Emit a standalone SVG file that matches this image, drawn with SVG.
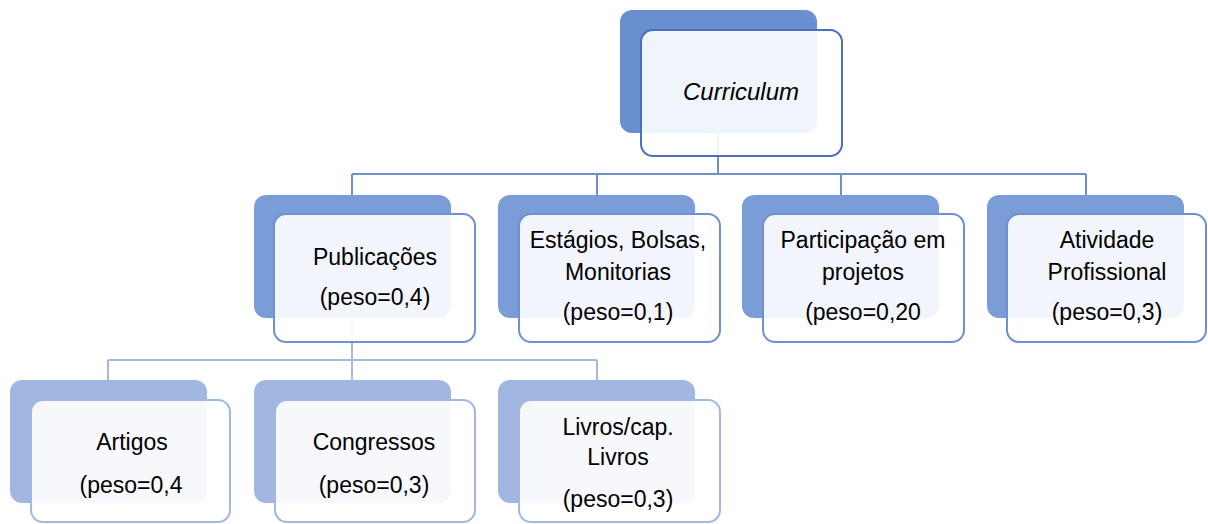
<svg xmlns="http://www.w3.org/2000/svg" width="1208" height="524" viewBox="0 0 1208 524">
<style>
.t{font-family:"Liberation Sans",Arial,sans-serif;font-size:23px;fill:#000;text-anchor:middle}
.it{font-style:italic;font-size:24px}
.b1{fill:#6a8fd0}
.f1{fill:#fff;fill-opacity:0.9;stroke:#4a6fbd;stroke-width:2}
.b2{fill:#7b9dd7}
.f2{fill:#fff;fill-opacity:0.9;stroke:#6f90d1;stroke-width:2}
.b3{fill:#a1b7e1}
.f3{fill:#fff;fill-opacity:0.9;stroke:#a3b7e0;stroke-width:2}
.c1{fill:none;stroke:#6f8fcf;stroke-width:2}
.c2{fill:none;stroke:#a5b9e2;stroke-width:2}
</style>
<rect width="1208" height="524" fill="#fff"/>
<g id="connectors">
<path class="c1" d="M718,133 V174 M352,174 H1086 M352,174 V195 M597,174 V195 M841,174 V195 M1086,174 V195"/>
<path class="c2" d="M352,318 V360 M108,360 H597 M108,360 V380 M352,360 V380 M597,360 V380"/>
</g>
<g id="curriculum">
<rect class="b1" x="620" y="10" width="197" height="123" rx="12"/>
<rect class="f1" x="641" y="30" width="201" height="126" rx="12"/>
<text class="t it" x="741" y="100">Curriculum</text>
</g>
<g id="publicacoes">
<rect class="b2" x="254" y="195" width="197" height="123" rx="12"/>
<rect class="f2" x="274" y="214" width="201" height="128" rx="12"/>
<text class="t" x="375" y="265">Publicações</text>
<text class="t" x="375" y="305">(peso=0,4)</text>
</g>
<g id="estagios">
<rect class="b2" x="498" y="195" width="197" height="123" rx="12"/>
<rect class="f2" x="519" y="214" width="201" height="128" rx="12"/>
<text class="t" x="618" y="248">Estágios, Bolsas,</text>
<text class="t" x="618" y="280">Monitorias</text>
<text class="t" x="618" y="320">(peso=0,1)</text>
</g>
<g id="participacao">
<rect class="b2" x="742" y="195" width="197" height="123" rx="12"/>
<rect class="f2" x="763" y="214" width="201" height="128" rx="12"/>
<text class="t" x="863" y="248">Participação em</text>
<text class="t" x="863" y="280">projetos</text>
<text class="t" x="863" y="320">(peso=0,20</text>
</g>
<g id="atividade">
<rect class="b2" x="987" y="195" width="197" height="123" rx="12"/>
<rect class="f2" x="1007" y="214" width="199" height="128" rx="12"/>
<text class="t" x="1107" y="248">Atividade</text>
<text class="t" x="1107" y="280">Profissional</text>
<text class="t" x="1107" y="320">(peso=0,3)</text>
</g>
<g id="artigos">
<rect class="b3" x="10" y="380" width="197" height="123" rx="12"/>
<rect class="f3" x="31" y="400" width="199" height="122" rx="12"/>
<text class="t" x="132" y="450">Artigos</text>
<text class="t" x="131" y="493">(peso=0,4</text>
</g>
<g id="congressos">
<rect class="b3" x="254" y="380" width="197" height="123" rx="12"/>
<rect class="f3" x="275" y="400" width="200" height="122" rx="12"/>
<text class="t" x="374" y="450">Congressos</text>
<text class="t" x="374" y="493">(peso=0,3)</text>
</g>
<g id="livros">
<rect class="b3" x="498" y="380" width="197" height="123" rx="12"/>
<rect class="f3" x="519" y="400" width="201" height="122" rx="12"/>
<text class="t" x="618" y="435">Livros/cap.</text>
<text class="t" x="618" y="465">Livros</text>
<text class="t" x="618" y="507">(peso=0,3)</text>
</g>
</svg>
